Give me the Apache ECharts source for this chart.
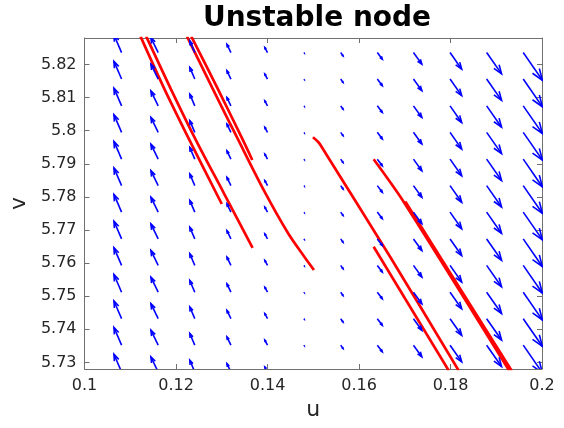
<!DOCTYPE html>
<html>
<head>
<meta charset="utf-8">
<script src="https://cdn.jsdelivr.net/npm/echarts@6/dist/echarts.min.js"></script>
<style>
html,body{margin:0;padding:0;background:#fff;}
#chart{width:564px;height:428px;}
</style>
</head>
<body>
<div id="chart"></div>
<script>
// ---- Data ----
const titleText = 'Unstable node';
const xTicks = [0.1, 0.12, 0.14, 0.16, 0.18, 0.2];
const yTicks = [5.73, 5.74, 5.75, 5.76, 5.77, 5.78, 5.79, 5.8, 5.81, 5.82];
const xRange = [0.1, 0.2];
const yRange = [5.728, 5.828];

// quiver grid (arrow tails)
const gridU = [0.1081, 0.1161, 0.1241, 0.1320, 0.1400, 0.1480, 0.1560, 0.1640, 0.1719, 0.1799, 0.1879, 0.1959];
const gridV = [5.8236, 5.8156, 5.8075, 5.7995, 5.7914, 5.7834, 5.7754, 5.7673, 5.7593, 5.7512, 5.7432, 5.7352, 5.7271];
// arrow components per column (same for every row)
const arrowDU = [-0.00167, -0.00159, -0.00109, -0.00087, -0.00059, 0.00004, 0.00050, 0.00109, 0.00183, 0.00254, 0.00326, 0.00420];
const arrowDV = [0.00535, 0.00453, 0.00353, 0.00251, 0.00151, -0.00012, -0.00100, -0.00200, -0.00350, -0.00502, -0.00644, -0.00840];

// trajectories [u, v]
const trajA1 = [[0.11224, 5.8285], [0.11750, 5.8125], [0.12300, 5.7970], [0.13000, 5.77785]];
const trajA2 = [[0.11348, 5.8285], [0.11890, 5.8125], [0.12440, 5.7970], [0.13050, 5.7810], [0.13674, 5.76456]];
const trajB1 = [[0.12239, 5.8285], [0.12790, 5.8130], [0.13350, 5.7975], [0.13900, 5.7825], [0.14450, 5.7690], [0.14800, 5.7620], [0.15015, 5.75791]];
const trajB2 = [[0.12333, 5.8285], [0.12900, 5.8130], [0.13450, 5.7975], [0.13667, 5.79114]];
const trajC = [[0.14993, 5.79800], [0.15120, 5.79640], [0.15300, 5.79250], [0.16696, 5.76153], [0.18180, 5.72750]];
const trajD = [[0.16320, 5.76495], [0.17963, 5.72750]];
const trajE = [[0.16320, 5.79135], [0.16978, 5.77845], [0.19283, 5.72750]];
const trajF = [[0.17011, 5.77860], [0.19337, 5.72750]];

// ---- build quiver table ----
const quiverData = [];
for (let j = 0; j < gridV.length; j++) {
  for (let i = 0; i < gridU.length; i++) {
    quiverData.push([gridU[i], gridV[j], arrowDU[i], arrowDV[i]]);
  }
}

const trajectories = [trajA1, trajA2, trajB1, trajB2, trajC, trajD, trajE, trajF];

const chart = echarts.init(document.getElementById('chart'), null, {renderer: 'canvas'});
const FONT = 'DejaVu Sans';
const axisColor = '#707070';
const labelColor = '#262626';

function renderArrow(params, api) {
  const x = api.value(0), y = api.value(1), du = api.value(2), dv = api.value(3);
  const p0 = api.coord([x, y]);
  const p1 = api.coord([x + du, y + dv]);
  const dx = p1[0] - p0[0], dy = p1[1] - p0[1];
  const a = 0.34, b = 0.36;
  const h1 = [p1[0] - a * (dx + b * dy), p1[1] - a * (dy - b * dx)];
  const h2 = [p1[0] - a * (dx - b * dy), p1[1] - a * (dy + b * dx)];
  const style = {stroke: '#0000ff', lineWidth: 1.6, fill: null, lineJoin: 'miter'};
  return {
    type: 'group',
    children: [
      {type: 'line', shape: {x1: p0[0], y1: p0[1], x2: p1[0], y2: p1[1]}, style: style},
      {type: 'polyline', shape: {points: [h1, p1, h2]}, style: style}
    ]
  };
}

const series = trajectories.map(t => ({
  type: 'line',
  data: t,
  showSymbol: false,
  symbol: 'none',
  smooth: 0.3,
  clip: true,
  lineStyle: {color: '#ff0000', width: 2.7},
  z: 2,
  silent: true,
  animation: false
}));
series.push({
  type: 'custom',
  renderItem: renderArrow,
  data: quiverData,
  clip: true,
  z: 3,
  silent: true,
  animation: false
});

const baseAxis = {
  type: 'value',
  axisLine: {show: true, onZero: false, lineStyle: {color: axisColor, width: 1}},
  splitLine: {show: false}
};

chart.setOption({
  animation: false,
  backgroundColor: '#ffffff',
  title: {
    text: titleText,
    left: 312, textAlign: 'center',
    top: 0,
    textStyle: {fontFamily: FONT, fontWeight: 'bold', fontSize: 28, color: '#000'}
  },
  grid: {left: 82, right: 22, top: 38, bottom: 59},
  xAxis: [
    Object.assign({}, baseAxis, {
      position: 'bottom', min: xRange[0], max: xRange[1],
      name: 'u', nameLocation: 'middle', nameGap: 24,
      nameTextStyle: {fontFamily: FONT, fontSize: 22, color: labelColor},
      axisTick: {show: true, inside: true, length: 5, lineStyle: {color: axisColor}, customValues: xTicks},
      axisLabel: {show: true, margin: 9, fontFamily: FONT, fontSize: 16, color: labelColor, customValues: xTicks,
                  formatter: v => String(Number(v.toFixed(4)))}
    }),
    Object.assign({}, baseAxis, {
      position: 'top', min: xRange[0], max: xRange[1],
      axisTick: {show: true, inside: true, length: 5, lineStyle: {color: axisColor}, customValues: xTicks},
      axisLabel: {show: false}
    })
  ],
  yAxis: [
    Object.assign({}, baseAxis, {
      position: 'left', min: yRange[0], max: yRange[1],
      name: 'v', nameLocation: 'middle', nameGap: 50, nameRotate: 90,
      nameTextStyle: {fontFamily: FONT, fontSize: 22, color: labelColor},
      axisTick: {show: true, inside: true, length: 5, lineStyle: {color: axisColor}, customValues: yTicks},
      axisLabel: {show: true, margin: 8, fontFamily: FONT, fontSize: 16, color: labelColor, customValues: yTicks,
                  formatter: v => String(Number(v.toFixed(4)))}
    }),
    Object.assign({}, baseAxis, {
      position: 'right', min: yRange[0], max: yRange[1],
      axisTick: {show: true, inside: true, length: 5, lineStyle: {color: axisColor}, customValues: yTicks},
      axisLabel: {show: false}
    })
  ],
  series: series
});
</script>
</body>
</html>
